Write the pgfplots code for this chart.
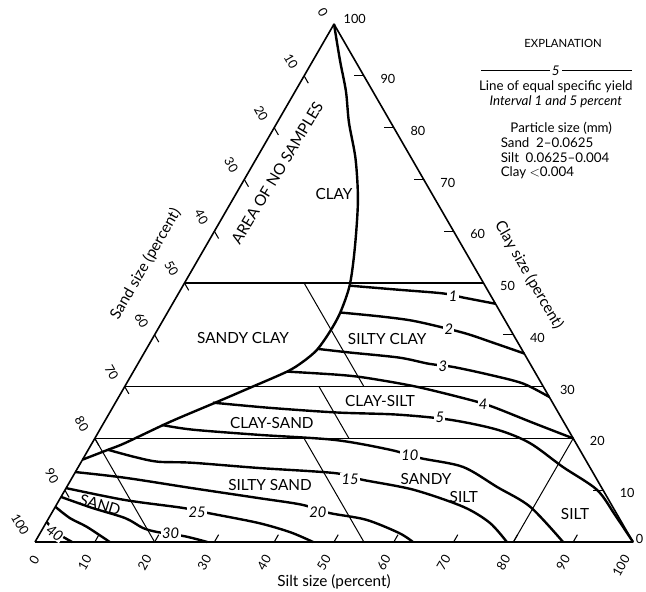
\documentclass[border=0pt]{standalone}
\usepackage{fontspec}
\setmainfont{Lato}
\usepackage{pgfplots}
\pgfplotsset{compat=1.18}
\pgfkeys{/pgfplots/table/tern/.style={x expr=\thisrow{s}+0.5*\thisrow{c}, y expr=0.8660254*\thisrow{c}}}
\newcommand{\ticksz}{\fontsize{9.5}{11}\selectfont}
\newcommand{\regsz}{\fontsize{11.5}{13}\selectfont}
\newcommand{\cntsz}{\fontsize{11}{13}\selectfont\itshape}
\newcommand{\labsz}{\fontsize{11.5}{13}\selectfont}
\newcommand{\expsz}{\fontsize{10}{12}\selectfont}
\begin{document}
\begin{tikzpicture}
\begin{axis}[scale only axis, width=448.5pt, height=388.4pt,
  xmin=0, xmax=100, ymin=0, ymax=86.6025, hide axis, clip=false]
% triangle
\addplot[black, line width=1.2pt, line join=round] table[tern]{
s c
0 0
100 0
0 100
0 0
};
% horizontal clay lines
\addplot[black, line width=0.9pt] table[tern]{
s c
0 50
50 50
};
\addplot[black, line width=0.9pt] table[tern]{
s c
0 30
70 30
};
\addplot[black, line width=0.9pt] table[tern]{
s c
0 20
80 20
};
% class dividers
\addplot[black, line width=0.75pt] table[tern]{
s c
20 50
40 30
};
\addplot[black, line width=0.75pt] table[tern]{
s c
32.5 30
42.5 20
};
\addplot[black, line width=0.75pt] table[tern]{
s c
0 20
20 0
};
\addplot[black, line width=0.75pt] table[tern]{
s c
35 20
55 0
};
\addplot[black, line width=0.75pt] table[tern]{
s c
80 20
80 0
};
% boundary of area of no samples
\addplot[black, line width=1.8pt, smooth] table[tern]{
s c
0 100
4.5 93
8.5 87
12 81
16.6 74
21 66
25 57
27.8 49.7
28.9 44.3
29 40.6
28.6 37.1
27.4 34.8
25.7 32.9
21.1 29.8
16.7 26.9
11 23.2
5.5 19.1
3.3 17.8
0 15.9
};
% specific yield contours
\addplot[black, line width=1.8pt, smooth] table[tern]{
s c
27.8 49.5
36.5 48.7
44.2 48.0
48.0 47.2
54.0 46.0
};
\addplot[black, line width=1.8pt, smooth] table[tern]{
s c
29.0 44.3
36.4 43.5
42.4 42.6
51.4 40.4
57.3 38.5
63.6 36.4
};
\addplot[black, line width=1.8pt, smooth] table[tern]{
s c
28.5 37.3
34.2 36.6
43.1 35.6
48.7 34.4
53.0 33.8
59.8 32.3
66.3 30.6
72.0 28.0
};
\addplot[black, line width=1.8pt, smooth] table[tern]{
s c
25.7 32.9
34.4 32.3
39.5 31.7
48.7 30.0
58.8 27.5
63.5 26.1
71.8 23.0
80.0 20.0
};
\addplot[black, line width=1.8pt, smooth] table[tern]{
s c
16.3 26.9
26.3 25.9
38.0 25.0
48.2 24.6
57.6 23.6
66.4 21.7
73.2 19.1
81.0 14.5
88.9 10.1
94.4 5.2
100 0
};
\addplot[black, line width=1.8pt, smooth] table[tern]{
s c
9.9 22.6
15.4 21.7
26.9 20.7
40.3 19.7
50.5 17.8
56.3 16.2
64.3 14.5
72.0 10.6
79.4 6.8
88.3 0
};
\addplot[black, line width=1.8pt, smooth] table[tern]{
s c
3.3 17.8
8.5 16.4
12.8 15.5
18.6 15.3
30.1 14.3
43.5 13.3
48.8 12.0
58.2 10.1
68.2 6.8
74.2 3.7
78.9 0
};
\addplot[black, line width=1.8pt, smooth] table[tern]{
s c
0 13.5
8.85 12.4
21.05 10.4
33.0 8.5
41.0 7.2
46.4 5.6
53.2 4.3
60.0 1.74
63.2 0
};
\addplot[black, line width=1.8pt, smooth] table[tern]{
s c
0 10.4
11.0 8.1
21.3 6.6
26.1 5.6
35.4 3.7
41.7 1.9
46.5 0
};
\addplot[black, line width=1.8pt, smooth] table[tern]{
s c
0 8.7
6.2 6.6
12.8 4.6
16.7 2.7
19.6 1.9
24.5 1.1
28.8 0
};
\addplot[black, line width=1.8pt, smooth] table[tern]{
s c
0 6.8
3.55 4.6
7.25 2.9
12.5 0
};
\addplot[black, line width=1.8pt, smooth] table[tern]{
s c
0 3.9
2.5 1.9
6.2 0
};
% contour labels
\begin{scope}[every node/.style={fill=white, inner sep=1pt, font=\cntsz}]
\node at (axis cs:69.9,41.1) {1};
\node at (axis cs:69.2,35.5) {2};
\node at (axis cs:68.2,29.4) {3};
\node at (axis cs:74.95,23.1) {4};
\node at (axis cs:67.7,20.8) {5};
\node at (axis cs:62.7,14.5) {10};
\node at (axis cs:52.7,10.4) {15};
\node at (axis cs:47.3,5.0) {20};
\node at (axis cs:27.1,5.0) {25};
\node at (axis cs:22.7,1.4) {30};
\node[rotate=-35, inner sep=0.5pt] at (axis cs:3.3,1.5) {40};
\end{scope}
% region labels
\begin{scope}[every node/.style={font=\regsz}]
\node at (axis cs:50.0,58.2) {CLAY};
\node[rotate=59] at (axis cs:40.5,61.7) {AREA OF NO SAMPLES};
\node at (axis cs:34.8,34.1) {SANDY CLAY};
\node at (axis cs:58.9,33.9) {SILTY CLAY};
\node at (axis cs:57.7,23.6) {CLAY-SILT};
\node at (axis cs:39.6,19.9) {CLAY-SAND};
\node at (axis cs:39.3,9.5) {SILTY SAND};
\node[rotate=-17] at (axis cs:10.9,6.2) {SAND};
\node at (axis cs:65.4,10.5) {SANDY};
\node at (axis cs:71.7,7.5) {SILT};
\node at (axis cs:90.3,4.7) {SILT};
\end{scope}
% ticks
\pgfplotsinvokeforeach{10,20,30,40,50,60,70,80,90}{
  \draw[line width=0.8pt] (axis cs:#1,0) -- ++(60:6.3pt);
  \draw[line width=0.8pt] (axis cs:{(100-#1)/2},{0.8660254*(100-#1)}) -- ++(-60:6.3pt);
  \draw[line width=0.8pt] (axis cs:{100-#1/2},{0.8660254*#1}) -- ++(-7.5pt,0);
  \node[font=\ticksz, anchor=west, xshift=9pt, yshift=-2.25pt] at (axis cs:{100-#1/2},{0.8660254*#1}) {#1};
}
\pgfplotsinvokeforeach{10,20,30,40,50,60,70,80,90,100}{
  \node[font=\ticksz, xshift=-3pt, yshift=-7.5pt, rotate=60, anchor=east] at (axis cs:#1,0) {#1};
}
\pgfplotsinvokeforeach{0,10,20,30,40,50,60,70,80,90,100}{
  \node[font=\ticksz, xshift=-5.25pt, yshift=3pt, rotate=-60, anchor=east] at (axis cs:{(100-#1)/2},{0.8660254*(100-#1)}) {#1};
}
\node[font=\ticksz, xshift=2.6pt, yshift=-7.8pt, rotate=60, anchor=east] at (axis cs:0,0) {0};
\node[font=\ticksz, anchor=west, inner sep=0.5pt, xshift=1.5pt, yshift=2.25pt] at (axis cs:100,0) {0};
\node[font=\ticksz, anchor=west, xshift=3.75pt, yshift=3.75pt] at (axis cs:50,86.6025) {100};
% axis labels
\node[font=\labsz, rotate=60] at (axis cs:18.5,46.5) {Sand size (percent)};
\node[font=\labsz, rotate=-60] at (axis cs:82.6,44.6) {Clay size (percent)};
\node[font=\labsz] at (axis cs:50.0,-6.7) {Silt size (percent)};
% explanation
\node[font=\fontsize{8.5}{10}\selectfont] at (axis cs:88.3,83.4) {EXPLANATION};
\draw[line width=0.8pt] (axis cs:74.6,78.8) -- (axis cs:99.8,78.8);
\node[fill=white, inner sep=1.5pt, font=\expsz\itshape] at (axis cs:87.1,78.8) {5};
\node[font=\expsz] at (axis cs:87.1,76.1) {Line of equal specific yield};
\node[font=\expsz\itshape] at (axis cs:87.1,73.7) {Interval 1 and 5 percent};
\node[font=\expsz] at (axis cs:88.0,69.1) {Particle size (mm)};
\node[font=\expsz, anchor=west] at (axis cs:77.1,66.7) {Sand\enspace 2--0.0625};
\node[font=\expsz, anchor=west] at (axis cs:77.1,64.2) {Silt\enspace 0.0625--0.004};
\node[font=\expsz, anchor=west] at (axis cs:77.1,61.7) {Clay $<$0.004};
\coordinate (bbll) at (axis cs:-5.853,-8.361);
\coordinate (bbur) at (axis cs:102.174,90.635);
\end{axis}
\pgfresetboundingbox
\useasboundingbox (bbll) rectangle (bbur);
\end{tikzpicture}
\end{document}
